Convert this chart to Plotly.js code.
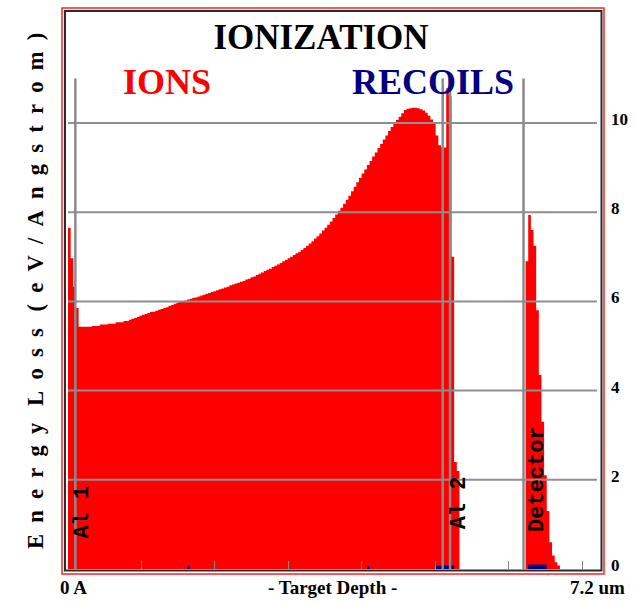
<!DOCTYPE html>
<html>
<head>
<meta charset="utf-8">
<script src="https://cdn.plot.ly/plotly-3.0.1.min.js"></script>
<style>
  html, body { margin: 0; padding: 0; background: #ffffff; }
  #chart { width: 638px; height: 601px; }
</style>
</head>
<body>
<div id="chart"></div>
<script>
// Target depth span (um) and histogram bin count
const depthMax = 7.2;
const binCount = 200;

// Ionization energy loss by ions, eV/Angstrom, one value per depth bin
const ionsEnergyLoss = [
  7.65, 6.97, 6.33, 5.85, 5.43, 5.43, 5.43, 5.43, 5.43, 5.45,
  5.45, 5.45, 5.48, 5.48, 5.48, 5.50, 5.50, 5.50, 5.53, 5.53,
  5.53, 5.56, 5.56, 5.59, 5.61, 5.63, 5.65, 5.68, 5.70, 5.72,
  5.74, 5.76, 5.77, 5.79, 5.81, 5.83, 5.85, 5.87, 5.90, 5.92,
  5.95, 5.97, 5.99, 6.00, 6.02, 6.04, 6.06, 6.08, 6.09, 6.11,
  6.13, 6.15, 6.17, 6.19, 6.21, 6.23, 6.25, 6.27, 6.29, 6.31,
  6.33, 6.36, 6.38, 6.40, 6.42, 6.44, 6.46, 6.49, 6.51, 6.54,
  6.56, 6.59, 6.62, 6.65, 6.68, 6.71, 6.73, 6.77, 6.80, 6.83,
  6.86, 6.90, 6.93, 6.97, 7.00, 7.04, 7.08, 7.11, 7.15, 7.20,
  7.25, 7.30, 7.35, 7.41, 7.46, 7.52, 7.59, 7.65, 7.72, 7.79,
  7.87, 7.95, 8.03, 8.10, 8.19, 8.28, 8.37, 8.47, 8.57, 8.67,
  8.77, 8.87, 8.96, 9.06, 9.15, 9.25, 9.34, 9.44, 9.53, 9.63,
  9.72, 9.82, 9.91, 9.99, 10.07, 10.14, 10.22, 10.29, 10.32, 10.33,
  10.34, 10.34, 10.33, 10.31, 10.28, 10.23, 10.16, 10.08, 9.98, 9.72,
  9.50, 9.45, 9.45, 10.78, 10.60, 7.00, 2.40, 2.20, 0, 0,
  0, 0, 0, 0, 0, 0, 0, 0, 0, 0,
  0, 0, 0, 0, 0, 0, 0, 0, 0, 0,
  0, 0, 0, 6.90, 7.94, 7.60, 7.25, 5.80, 4.35, 3.30,
  2.10, 1.30, 0.60, 0.30, 0.15, 0.08, 0, 0, 0, 0,
  0, 0, 0, 0, 0, 0, 0, 0, 0, 0
];

// Recoil ionization: only a few bins are above zero
const recoilBins = [45, 113, 139, 140, 141, 142, 143, 144, 145, 174, 175, 176, 177, 178, 179, 180];
const recoilEnergyLoss = [0.06, 0.06, 0.08, 0.08, 0.08, 0.08, 0.08, 0.08, 0.08, 0.10, 0.10, 0.10, 0.10, 0.10, 0.10, 0.10];

// Layer boundaries (um) and layer names
const layerBounds = [0.1, 5.1, 5.2, 6.2];
const layerLabels = ['Al 1', 'Al 2', 'Detector'];
const layerLabelDepth = [0.2, 5.34, 6.39];
const layerLabelLevel = [1.28, 1.48, 2.03];

// Axis ticks
const yTicks = [0, 2, 4, 6, 8, 10];
const xTicks = [1, 2, 3, 4, 5, 6, 7];

const binWidth = depthMax / binCount;

// Step outlines: left edge of each bin, closed at the far edge
function stepTrace(values) {
  const x = values.map((_, i) => i * binWidth);
  const y = values.slice();
  x.push(depthMax);
  y.push(values[values.length - 1]);
  return { x, y };
}

const recoilSeries = new Array(binCount).fill(0);
recoilBins.forEach((b, k) => { recoilSeries[b] = recoilEnergyLoss[k]; });

const ionStep = stepTrace(ionsEnergyLoss);
const recoilStep = stepTrace(recoilSeries);

const traces = [
  {
    type: 'scatter', mode: 'lines', name: 'Ions',
    x: ionStep.x, y: ionStep.y,
    line: { shape: 'hv', width: 0, color: '#ff0000' },
    fill: 'tozeroy', fillcolor: '#ff0000',
    hoverinfo: 'skip'
  },
  {
    type: 'scatter', mode: 'lines', name: 'Recoils',
    x: recoilStep.x, y: recoilStep.y,
    line: { shape: 'hv', width: 0, color: '#000080' },
    fill: 'tozeroy', fillcolor: '#000080',
    hoverinfo: 'skip'
  }
];

// Plot area geometry in pixels
const L = 68, R = 41, T = 11, B = 32;
const PW = 638 - L - R, PH = 601 - T - B;
const px = v => (v - L) / PW;           // page x -> paper x
const py = v => (601 - B - v) / PH;     // page y -> paper y

const serif = 'Liberation Serif, Times New Roman, serif';
const mono = 'Liberation Mono, Courier New, monospace';

const shapes = [];
// horizontal grid on top of the fill
yTicks.filter(t => t > 0).forEach(t => shapes.push({
  type: 'line', xref: 'paper', yref: 'y', x0: 0, x1: 1, y0: t, y1: t,
  line: { color: '#8f8f8f', width: 2 }, layer: 'above'
}));
// layer boundary markers
layerBounds.forEach(d => shapes.push({
  type: 'line', xref: 'x', yref: 'y', x0: d, x1: d, y0: 0, y1: 11.0,
  line: { color: '#8a8a8a', width: 2.5 }, layer: 'above'
}));
// double frame: dark inner, red outer
shapes.push({
  type: 'rect', xref: 'paper', yref: 'paper',
  x0: px(65), x1: px(601.5), y0: py(570.5), y1: py(11),
  line: { color: '#2b2b2b', width: 2 }, layer: 'above'
});
shapes.push({
  type: 'rect', xref: 'paper', yref: 'paper',
  x0: px(62), x1: px(604), y0: py(574), y1: py(8),
  line: { color: '#ff2020', width: 1.5 }, layer: 'above'
});

// letter-spaced axis caption
const g = '\u00A0\u00A0', w = '\u00A0\u00A0\u00A0';
const spacedLabel = ['E','n','e','r','g','y'].join(g) + w + ['L','o','s','s'].join(g) + w +
  ['(','e','V','/','A','n','g','s','t','r','o','m',')'].join(g);

const annotations = [
  { text: 'IONS', xref: 'paper', yref: 'paper', x: px(167), y: py(82),
    showarrow: false, xanchor: 'center', yanchor: 'middle',
    font: { family: serif, size: 36, color: '#ff0000', weight: 'bold' } },
  { text: 'RECOILS', xref: 'paper', yref: 'paper', x: px(433), y: py(82),
    showarrow: false, xanchor: 'center', yanchor: 'middle',
    font: { family: serif, size: 36, color: '#000080', weight: 'bold' } },
  { text: spacedLabel, xref: 'paper', yref: 'paper', x: px(35), y: py(291),
    showarrow: false, textangle: -90, xanchor: 'center', yanchor: 'middle',
    font: { family: serif, size: 22.5, color: '#000000', weight: 'bold' } },
  { text: '0 A', xref: 'paper', yref: 'paper', x: px(73), y: py(587),
    showarrow: false, xanchor: 'center', yanchor: 'middle',
    font: { family: serif, size: 19, color: '#000000', weight: 'bold' } },
  { text: '- Target Depth -', xref: 'paper', yref: 'paper', x: px(332), y: py(587),
    showarrow: false, xanchor: 'center', yanchor: 'middle',
    font: { family: serif, size: 19, color: '#000000', weight: 'bold' } },
  { text: '7.2 um', xref: 'paper', yref: 'paper', x: px(597), y: py(587),
    showarrow: false, xanchor: 'center', yanchor: 'middle',
    font: { family: serif, size: 19, color: '#000000', weight: 'bold' } }
];
layerLabels.forEach((name, k) => annotations.push({
  text: name, xref: 'x', yref: 'y', x: layerLabelDepth[k], y: layerLabelLevel[k],
  showarrow: false, textangle: -90, xanchor: 'center', yanchor: 'middle',
  font: { family: mono, size: 22, color: '#000000', weight: 'bold' }
}));

const layout = {
  width: 638, height: 601,
  margin: { l: L, r: R, t: T, b: B },
  paper_bgcolor: '#ffffff', plot_bgcolor: '#ffffff',
  showlegend: false,
  title: {
    text: 'IONIZATION', x: 321 / 638, y: 1 - 37 / 601,
    xanchor: 'center', yanchor: 'middle',
    font: { family: serif, size: 35, color: '#000000', weight: 'bold' }
  },
  xaxis: {
    range: [0, depthMax], tickvals: xTicks, ticks: 'inside', ticklen: 8,
    tickcolor: '#8a8a8a', tickwidth: 1, showticklabels: false,
    showgrid: false, zeroline: false, showline: false, layer: 'above traces',
    fixedrange: true
  },
  yaxis: {
    range: [0, PH / 44.6], side: 'right', tickvals: yTicks, ticks: '',
    showgrid: false, zeroline: false, showline: false,
    ticklabelstandoff: 13, ticklabelshift: -4,
    tickfont: { family: serif, size: 17, color: '#000000', weight: 'bold' },
    fixedrange: true
  },
  shapes: shapes,
  annotations: annotations
};

Plotly.newPlot('chart', traces, layout, { displayModeBar: false, staticPlot: true });
</script>
</body>
</html>
